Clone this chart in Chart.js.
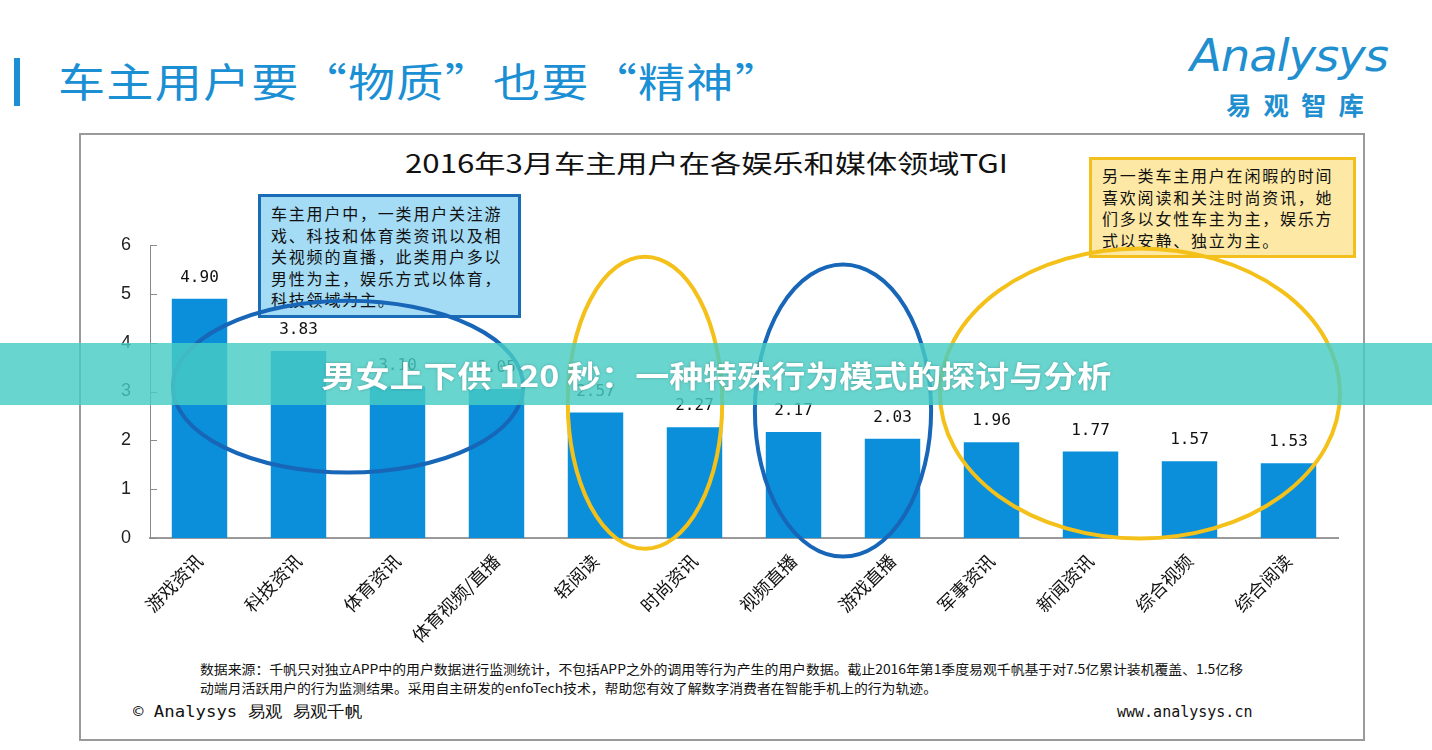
<!DOCTYPE html>
<html>
<head>
<meta charset="utf-8">
<script src="https://cdn.jsdelivr.net/npm/chart.js@4.4.1/dist/chart.umd.min.js"></script>
<style>
	body {margin: 0; background: #fff; width: 1432px; height: 750px; overflow: hidden; position: relative;
		font-family: "Noto Sans CJK SC", "Noto Sans", sans-serif;}
	.abs {position: absolute; white-space: nowrap;}
	#pageBar {left: 14px; top: 58px; width: 6px; height: 48px; background: #1a8fd3;}
	#pageTitle {left: 58px; top: 52px; font-size: 40px; color: #1a8fd3; letter-spacing: 1px; line-height: 56px;}
	#logo1 {left: 1190px; top: 30px; font-size: 44px; color: #1f8fd0; font-style: italic; font-family: "DejaVu Sans", sans-serif; letter-spacing: -1px;}
	#logo2 {left: 1226px; top: 86px; font-size: 25px; color: #1f8fd0; font-weight: bold; letter-spacing: 12px;}
	#frame {left: 79px; top: 133px; width: 1286px; height: 608px; border: 2px solid #9a9a9a; box-sizing: border-box;}
	#chartTitle {left: 405px; top: 144px; font-size: 25px; color: #111; line-height: 36px;}
	.box {position: absolute; box-sizing: border-box; font-size: 16px; color: #111; line-height: 21.6px; padding: 6px 10px; letter-spacing: 1.8px; white-space: nowrap;}
	#boxBlue {left: 258px; top: 194px; width: 263px; height: 124px; background: #a4dbf5; border: 3px solid #1b6cb6;}
	#boxYellow {left: 1089px; top: 157px; width: 267px; height: 101px; background: #fde8a5; border: 3px solid #f3bf1d; padding-top: 5px;}
	#source {left: 200px; top: 659px; font-size: 13px; color: #111; line-height: 19px;}
	#copy {left: 133px; top: 702px; font-size: 16px; color: #111; font-family: "DejaVu Sans Mono", monospace;}
	#site {left: 1117px; top: 703px; font-size: 15px; color: #111; font-family: "DejaVu Sans Mono", monospace;}
	#chart {position: absolute; left: 0; top: 0;}
	#banner {left: 0; top: 343px; width: 1432px; height: 62px; background: rgba(72, 204, 196, 0.82);}
	#bannerText {left: 0; top: 343px; width: 1432px; height: 62px; line-height: 62px; text-align: center;
		font-size: 30px; font-weight: bold; color: #fff; text-shadow: 0 0 3px rgba(0,0,0,0.25);}
</style>
</head>
<body>
<div class="abs" id="pageBar"></div>
<div class="abs fit" id="pageTitle" data-w="725">车主用户要“物质”也要“精神”</div>
<div class="abs fit" id="logo1" data-w="198">Analysys</div>
<div class="abs fit" id="logo2" data-w="150">易观智库</div>
<div class="abs" id="frame"></div>
<div class="abs fit" id="chartTitle" data-w="603">2016年3月车主用户在各娱乐和媒体领域TGI</div>
<div class="box" id="boxBlue">车主用户中，一类用户关注游<br>戏、科技和体育类资讯以及相<br>关视频的直播，此类用户多以<br>男性为主，娱乐方式以体育，<br>科技领域为主。</div>
<div class="box" id="boxYellow">另一类车主用户在闲暇的时间<br>喜欢阅读和关注时尚资讯，她<br>们多以女性车主为主，娱乐方<br>式以安静、独立为主。</div>
<div class="abs" id="source"><span class="fit" data-w="1043" style="display:inline-block">数据来源：千帆只对独立APP中的用户数据进行监测统计，不包括APP之外的调用等行为产生的用户数据。截止2016年第1季度易观千帆基于对7.5亿累计装机覆盖、1.5亿移</span><br><span class="fit" data-w="737" style="display:inline-block">动端月活跃用户的行为监测结果。采用自主研发的enfoTech技术，帮助您有效了解数字消费者在智能手机上的行为轨迹。</span></div>
<div class="abs fit" id="copy" data-w="229">© Analysys 易观  易观千帆</div>
<div class="abs" id="site">www.analysys.cn</div>
<canvas id="chart" width="1432" height="750"></canvas>
<div class="abs" id="banner"></div>
<div class="abs" id="bannerText"><span class="fitc" data-w="790" style="display:inline-block">男女上下供 120 秒：一种特殊行为模式的探讨与分析</span></div>

<script>
// data
const categories = ['游戏资讯', '科技资讯', '体育资讯', '体育视频/直播', '轻阅读', '时尚资讯', '视频直播', '游戏直播', '军事资讯', '新闻资讯', '综合视频', '综合阅读'];
const tgiValues = [4.90, 3.83, 3.10, 3.05, 2.57, 2.27, 2.17, 2.03, 1.96, 1.77, 1.57, 1.53];
const yTicks = [0, 1, 2, 3, 4, 5, 6];

// ellipses round the groups (centre in category index / value units)
const ellipseCx = [1.5, 4.5, 6.5, 9.5];
const ellipseCy = [3.10, 2.77, 2.61, 2.96];
const ellipseRx = [1.77, 0.78, 0.89, 2.02];
const ellipseRy = [1.76, 2.99, 2.99, 2.97];
const ellipseColor = ['#1766b8', '#f4c01a', '#1766b8', '#f4c01a'];

// squeeze text blocks to the width they have in the picture
function fitText(sel, origin) {
	document.querySelectorAll(sel).forEach(el => {
		const w = el.getBoundingClientRect().width;
		const target = parseFloat(el.dataset.w);
		if (w > 0 && target) {
			el.style.transformOrigin = origin;
			el.style.transform = 'scaleX(' + (target / w) + ')';
		}
	});
}
fitText('.fit', 'left center');
fitText('.fitc', 'center center');

const barLabels = {
	id: 'barLabels',
	afterDatasetsDraw(chart) {
		const ctx = chart.ctx;
		const meta = chart.getDatasetMeta(0);
		ctx.save();
		ctx.font = '16px "DejaVu Sans Mono", monospace';
		ctx.fillStyle = '#111';
		ctx.textAlign = 'center';
		ctx.textBaseline = 'bottom';
		meta.data.forEach((bar, i) => {
			ctx.fillText(tgiValues[i].toFixed(2), bar.x, bar.y - 13);
		});
		ctx.restore();
	}
};

const innerTicks = {
	id: 'innerTicks',
	afterDraw(chart) {
		const ctx = chart.ctx;
		const y = chart.scales.y;
		const left = chart.chartArea.left;
		ctx.save();
		ctx.strokeStyle = '#8a8a8a';
		ctx.lineWidth = 1;
		yTicks.forEach(v => {
			const py = Math.round(y.getPixelForValue(v)) + 0.5;
			ctx.beginPath();
			ctx.moveTo(left, py);
			ctx.lineTo(left + 7, py);
			ctx.stroke();
		});
		ctx.restore();
	}
};

const ellipses = {
	id: 'ellipses',
	afterDraw(chart) {
		const ctx = chart.ctx;
		const x = chart.scales.x;
		const y = chart.scales.y;
		const step = x.getPixelForValue(1) - x.getPixelForValue(0);
		const unit = y.getPixelForValue(0) - y.getPixelForValue(1);
		ctx.save();
		ctx.lineWidth = 4;
		for (let i = 0; i < ellipseCx.length; i++) {
			ctx.strokeStyle = ellipseColor[i];
			ctx.beginPath();
			ctx.ellipse(x.getPixelForValue(ellipseCx[i]), y.getPixelForValue(ellipseCy[i]),
				ellipseRx[i] * step, ellipseRy[i] * unit, 0, 0, Math.PI * 2);
			ctx.stroke();
		}
		ctx.restore();
	}
};

new Chart(document.getElementById('chart').getContext('2d'), {
	type: 'bar',
	data: {
		labels: categories,
		datasets: [{
			data: tgiValues,
			backgroundColor: '#0b8fda',
			categoryPercentage: 1,
			barPercentage: 0.56
		}]
	},
	options: {
		responsive: false,
		animation: false,
		devicePixelRatio: 1,
		layout: {padding: {left: 100, right: 94, top: 245, bottom: 0}},
		plugins: {legend: {display: false}, tooltip: {enabled: false}, title: {display: false}},
		scales: {
			x: {
				afterFit(scale) {scale.height = 212;},
				grid: {display: false},
				border: {display: true, color: '#9a9a9a', width: 2},
				ticks: {
					minRotation: 45, maxRotation: 45, padding: 4,
					color: '#111',
					font: {family: '"Noto Sans CJK SC", sans-serif', size: 18}
				}
			},
			y: {
				min: 0, max: 6,
				afterFit(scale) {scale.width = 50;},
				afterBuildTicks(scale) {scale.ticks = yTicks.map(v => ({value: v}));},
				grid: {display: false},
				border: {display: true, color: '#8a8a8a', width: 1},
				ticks: {
					padding: 11, color: '#222',
					font: {family: '"Liberation Sans", Arial, sans-serif', size: 18}
				}
			}
		}
	},
	plugins: [barLabels, innerTicks, ellipses]
});
</script>
</body>
</html>
